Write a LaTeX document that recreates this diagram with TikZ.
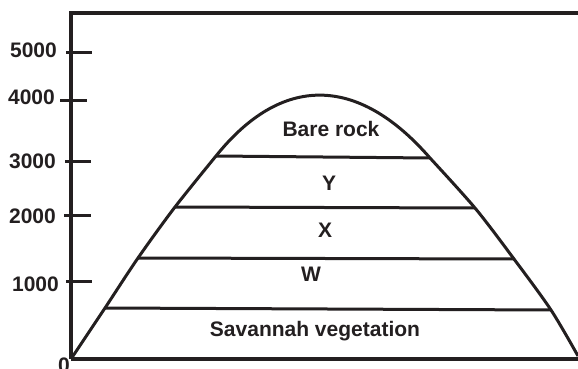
\documentclass[tikz,border=0pt]{standalone}
\usepackage{fontspec}
\setmainfont{Liberation Sans}
\usetikzlibrary{positioning}
\definecolor{ink}{RGB}{35,31,32}
\tikzset{
  zone/.style={font=\fontsize{21}{25}\selectfont\bfseries, text=ink, inner sep=0pt, anchor=base},
  altlabel/.style={font=\fontsize{21}{25}\selectfont\bfseries, text=ink, inner sep=0pt, anchor=base east},
  axisline/.style={draw=ink, line width=3.4pt},
  hmark/.style={draw=ink, line width=3pt},
  slope/.style={draw=ink, line width=3pt, line join=round},
  belt/.style={draw=ink, line width=3pt},
}
\begin{document}
\begin{tikzpicture}[x=1pt, y=-1pt]
\useasboundingbox (0,0) rectangle (578,369);

% frame
\coordinate (o)  at (71,359);
\coordinate (tl) at (71,13);
\coordinate (tr) at (578,13);
\coordinate (br) at (578,359);
\draw[axisline] (tr) -- (tl) -- (o);
\draw[axisline, line width=4.5pt] (o) -- (br);

% altitude marks
\coordinate (m5) at (66,53);  \coordinate (n5) at (92,53);
\coordinate (m4) at (60,100); \coordinate (n4) at (87,100);
\coordinate (m3) at (65,161); \coordinate (n3) at (91,161);
\coordinate (m2) at (64,215); \coordinate (n2) at (91,215);
\coordinate (m1) at (66,281); \coordinate (n1) at (92,281);
\foreach \i in {1,...,5}
  \draw[hmark] (m\i) -- (n\i);

\node[altlabel] (h5) at (57,58)  {5000};
\node[altlabel] (h4) at (55,104) {4000};
\node[altlabel] (h3) at (56,168) {3000};
\node[altlabel] (h2) at (56,223) {2000};
\node[altlabel] (h1) at (59,291) {1000};
\node[altlabel] (h0) at (70,372) {0};

% mountain
\coordinate (a1) at (105,308); \coordinate (b1) at (551,310);
\coordinate (a2) at (138,258); \coordinate (b2) at (514,259);
\coordinate (a3) at (175,207); \coordinate (b3) at (475,208);
\coordinate (a4) at (216,156); \coordinate (b4) at (430,158);
\coordinate (foot) at (578,356);
\draw[slope] plot[smooth, tension=0.5] coordinates {(o) (a1) (a2) (a3) (a4)}
  .. controls (281,75) and (357,74) .. (b4)
  -- plot[smooth, tension=0.5] coordinates {(b4) (b3) (b2) (b1) (foot)};

% belts
\foreach \i in {1,...,4}
  \draw[belt] (a\i) -- (b\i);

\node[zone] (rock)  at (331,136) {Bare rock};
\node[zone] (zy)    at (329,190) {Y};
\node[zone] (zx)    at (325,237) {X};
\node[zone] (zw)    at (311,281) {W};
\node[zone] (sav)   at (315,336) {Savannah vegetation};
\end{tikzpicture}
\end{document}
